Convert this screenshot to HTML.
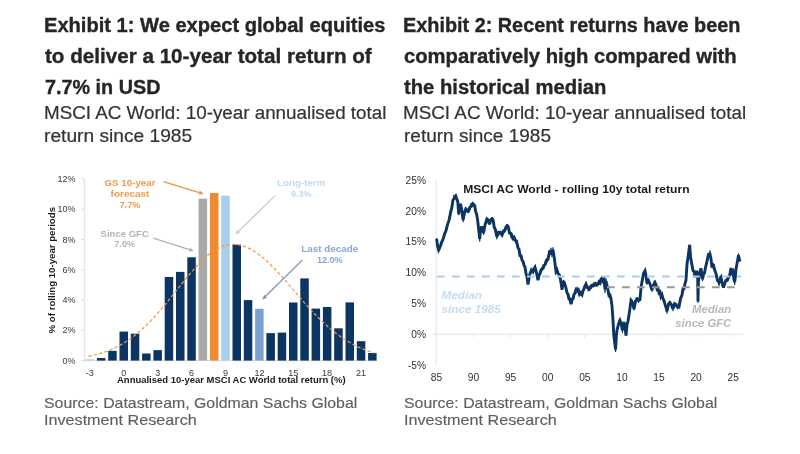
<!DOCTYPE html>
<html><head><meta charset="utf-8"><title>Exhibits</title>
<style>
html,body{margin:0;padding:0;background:#fff;}
body{width:800px;height:454px;position:relative;overflow:hidden;font-family:"Liberation Sans",sans-serif;}
.ln{position:absolute;white-space:nowrap;line-height:normal;margin:0;transform-origin:0 0;}
.h{font-weight:bold;color:#262626;-webkit-text-stroke:0.35px #262626;}
.s{color:#333;-webkit-text-stroke:0.2px #333;}
.src{color:#5e5e5e;-webkit-text-stroke:0.15px #5e5e5e;}
svg{position:absolute;left:0;top:0;}
svg text{font-family:"Liberation Sans",sans-serif;}
.t1{font-size:9px;fill:#383838;}
.t2{font-size:10.2px;fill:#303030;}
.a1{font-size:9.4px;}
.b{font-weight:bold;}
.axt{font-size:9.2px;font-weight:bold;fill:#1a1a1a;}
.ct{font-size:11.2px;font-weight:bold;fill:#1a1a1a;}
.med{font-size:11.4px;font-weight:bold;font-style:italic;}
</style></head><body>
<div class="ln h" id="h1a" style="left:44.0px;top:14.20px;font-size:20px;transform:scaleX(1.0052);">Exhibit 1: We expect global equities</div>
<div class="ln h" id="h1b" style="left:44.8px;top:45.20px;font-size:20px;transform:scaleX(1.0314);">to deliver a 10-year total return of</div>
<div class="ln h" id="h1c" style="left:44.6px;top:75.90px;font-size:20px;transform:scaleX(0.9897);">7.7% in USD</div>
<div class="ln s" id="s1a" style="left:44.1px;top:103.21px;font-size:18px;transform:scaleX(1.0445);">MSCI AC World: 10-year annualised total</div>
<div class="ln s" id="s1b" style="left:44.3px;top:126.41px;font-size:18px;transform:scaleX(1.0655);">return since 1985</div>
<div class="ln h" id="h2a" style="left:403.2px;top:14.20px;font-size:20px;transform:scaleX(0.9918);">Exhibit 2: Recent returns have been</div>
<div class="ln h" id="h2b" style="left:403.8px;top:45.20px;font-size:20px;transform:scaleX(1.0114);">comparatively high compared with</div>
<div class="ln h" id="h2c" style="left:404.0px;top:75.90px;font-size:20px;transform:scaleX(1.0122);">the historical median</div>
<div class="ln s" id="s2a" style="left:403.3px;top:103.21px;font-size:18px;transform:scaleX(1.0469);">MSCI AC World: 10-year annualised total</div>
<div class="ln s" id="s2b" style="left:403.5px;top:126.41px;font-size:18px;transform:scaleX(1.0568);">return since 1985</div>
<div class="ln src" id="r1a" style="left:44.2px;top:393.82px;font-size:15px;transform:scaleX(1.0585);">Source: Datastream, Goldman Sachs Global</div>
<div class="ln src" id="r1b" style="left:43.8px;top:410.82px;font-size:15px;transform:scaleX(1.0774);">Investment Research</div>
<div class="ln src" id="r2a" style="left:404.2px;top:393.82px;font-size:15px;transform:scaleX(1.0585);">Source: Datastream, Goldman Sachs Global</div>
<div class="ln src" id="r2b" style="left:403.8px;top:410.82px;font-size:15px;transform:scaleX(1.0774);">Investment Research</div>
<svg width="800" height="454" viewBox="0 0 800 454">
<g id="c1"><line x1="84.3" y1="179" x2="84.3" y2="360.6" stroke="#dadde4" stroke-width="1"/><line x1="81.3" y1="360.6" x2="377.5" y2="360.6" stroke="#dadde4" stroke-width="1"/><line x1="81.3" y1="360.6" x2="84.3" y2="360.6" stroke="#dadde4" stroke-width="1"/><line x1="81.3" y1="330.3" x2="84.3" y2="330.3" stroke="#dadde4" stroke-width="1"/><line x1="81.3" y1="300.1" x2="84.3" y2="300.1" stroke="#dadde4" stroke-width="1"/><line x1="81.3" y1="269.8" x2="84.3" y2="269.8" stroke="#dadde4" stroke-width="1"/><line x1="81.3" y1="239.5" x2="84.3" y2="239.5" stroke="#dadde4" stroke-width="1"/><line x1="81.3" y1="209.3" x2="84.3" y2="209.3" stroke="#dadde4" stroke-width="1"/><line x1="81.3" y1="179.0" x2="84.3" y2="179.0" stroke="#dadde4" stroke-width="1"/><line x1="84.2" y1="360.6" x2="84.2" y2="363.1" stroke="#e9ebef" stroke-width="1"/><line x1="118.1" y1="360.6" x2="118.1" y2="363.1" stroke="#e9ebef" stroke-width="1"/><line x1="152.0" y1="360.6" x2="152.0" y2="363.1" stroke="#e9ebef" stroke-width="1"/><line x1="185.9" y1="360.6" x2="185.9" y2="363.1" stroke="#e9ebef" stroke-width="1"/><line x1="219.8" y1="360.6" x2="219.8" y2="363.1" stroke="#e9ebef" stroke-width="1"/><line x1="253.7" y1="360.6" x2="253.7" y2="363.1" stroke="#e9ebef" stroke-width="1"/><line x1="287.6" y1="360.6" x2="287.6" y2="363.1" stroke="#e9ebef" stroke-width="1"/><line x1="321.5" y1="360.6" x2="321.5" y2="363.1" stroke="#e9ebef" stroke-width="1"/><line x1="355.4" y1="360.6" x2="355.4" y2="363.1" stroke="#e9ebef" stroke-width="1"/><rect x="85.6" y="359.3" width="8.5" height="1.3" fill="#b9c6d8"/><rect x="96.9" y="358.0" width="8.5" height="2.6" fill="#0d3563"/><rect x="108.2" y="350.9" width="8.5" height="9.7" fill="#0d3563"/><rect x="119.5" y="331.6" width="8.5" height="29.0" fill="#0d3563"/><rect x="130.8" y="333.7" width="8.5" height="26.9" fill="#0d3563"/><rect x="142.1" y="353.5" width="8.5" height="7.1" fill="#0d3563"/><rect x="153.4" y="350.1" width="8.5" height="10.5" fill="#0d3563"/><rect x="164.7" y="277.0" width="8.5" height="83.6" fill="#0d3563"/><rect x="176.0" y="271.9" width="8.5" height="88.7" fill="#0d3563"/><rect x="187.3" y="257.3" width="8.5" height="103.3" fill="#0d3563"/><rect x="198.6" y="198.6" width="8.5" height="162.0" fill="#a9a9a9"/><rect x="209.9" y="193.0" width="8.5" height="167.6" fill="#ef8a2e"/><rect x="221.2" y="195.7" width="8.5" height="164.9" fill="#a9cdec"/><rect x="232.5" y="244.7" width="8.5" height="115.9" fill="#0d3563"/><rect x="243.8" y="300.1" width="8.5" height="60.5" fill="#0d3563"/><rect x="255.1" y="308.8" width="8.5" height="51.8" fill="#7ba0d2"/><rect x="266.4" y="333.1" width="8.5" height="27.5" fill="#0d3563"/><rect x="277.7" y="332.6" width="8.5" height="28.0" fill="#0d3563"/><rect x="289.0" y="302.5" width="8.5" height="58.1" fill="#0d3563"/><rect x="300.3" y="278.4" width="8.5" height="82.2" fill="#0d3563"/><rect x="311.6" y="308.6" width="8.5" height="52.0" fill="#0d3563"/><rect x="322.9" y="307.0" width="8.5" height="53.6" fill="#0d3563"/><rect x="334.2" y="328.3" width="8.5" height="32.3" fill="#0d3563"/><rect x="345.5" y="302.4" width="8.5" height="58.2" fill="#0d3563"/><rect x="356.8" y="341.2" width="8.5" height="19.4" fill="#0d3563"/><rect x="368.1" y="353.0" width="8.5" height="7.6" fill="#0d3563"/><polyline points="88.5,356.3 90.5,355.9 92.5,355.5 94.5,355.0 96.5,354.5 98.5,354.0 100.5,353.4 102.5,352.8 104.5,352.1 106.5,351.4 108.5,350.6 110.5,349.8 112.5,348.9 114.5,348.0 116.5,347.0 118.5,346.0 120.5,344.9 122.5,343.8 124.5,342.6 126.5,341.3 128.5,340.0 130.5,338.6 132.5,337.1 134.5,335.6 136.5,334.0 138.5,332.3 140.5,330.6 142.5,328.8 144.5,326.9 146.5,325.0 148.5,323.0 150.5,321.0 152.5,318.9 154.5,316.8 156.5,314.6 158.5,312.3 160.5,310.0 162.5,307.6 164.5,305.3 166.5,302.9 168.5,300.4 170.5,297.9 172.5,295.4 174.5,292.9 176.5,290.4 178.5,287.9 180.5,285.4 182.5,282.9 184.5,280.5 186.5,278.0 188.5,275.6 190.5,273.2 192.5,270.9 194.5,268.6 196.5,266.4 198.5,264.3 200.5,262.2 202.5,260.2 204.5,258.3 206.5,256.5 208.5,254.8 210.5,253.3 212.5,251.8 214.5,250.4 216.5,249.2 218.5,248.1 220.5,247.1 222.5,246.3 224.5,245.6 226.5,245.1 228.5,244.7 230.5,244.4 232.5,244.3 234.5,244.3 236.5,244.5 238.5,244.8 240.5,245.2 242.5,245.7 244.5,246.4 246.5,247.2 248.5,248.1 250.5,249.1 252.5,250.2 254.5,251.4 256.5,252.8 258.5,254.2 260.5,255.7 262.5,257.3 264.5,259.0 266.5,260.8 268.5,262.7 270.5,264.6 272.5,266.6 274.5,268.7 276.5,270.8 278.5,272.9 280.5,275.1 282.5,277.4 284.5,279.6 286.5,281.9 288.5,284.2 290.5,286.6 292.5,288.9 294.5,291.2 296.5,293.6 298.5,295.9 300.5,298.2 302.5,300.5 304.5,302.8 306.5,305.0 308.5,307.2 310.5,309.4 312.5,311.6 314.5,313.7 316.5,315.7 318.5,317.8 320.5,319.7 322.5,321.7 324.5,323.5 326.5,325.4 328.5,327.1 330.5,328.9 332.5,330.5 334.5,332.1 336.5,333.7 338.5,335.2 340.5,336.6 342.5,338.0 344.5,339.3 346.5,340.6 348.5,341.8 350.5,343.0 352.5,344.1 354.5,345.1 356.5,346.1 358.5,347.1 360.5,348.0 362.5,348.8 364.5,349.6 366.5,350.4 368.5,351.1 370.5,351.8 372.5,352.5 374.5,353.1" fill="none" stroke="#ee9a4c" stroke-width="1.25" stroke-dasharray="3.3 2.2"/><line x1="163.5" y1="181.6" x2="199.2" y2="192.6" stroke="#ef9040" stroke-width="1.3"/><polygon points="203.6,194.0 198.6,194.6 199.8,190.6" fill="#ef9040"/><line x1="153.2" y1="238.2" x2="189.4" y2="249.6" stroke="#b2b2b2" stroke-width="1.3"/><polygon points="193.8,251.0 188.8,251.6 190.0,247.6" fill="#b2b2b2"/><line x1="275.2" y1="195.6" x2="238.6" y2="231.2" stroke="#bfd0e4" stroke-width="1.3"/><polygon points="235.3,234.4 237.1,229.7 240.1,232.7" fill="#bfd0e4"/><line x1="302.2" y1="260.1" x2="265.6" y2="296.2" stroke="#7e90b4" stroke-width="1.3"/><polygon points="262.3,299.4 264.1,294.7 267.1,297.7" fill="#7e90b4"/><text x="130" y="186.1" text-anchor="middle" class="a1 b" fill="#f09a4a" textLength="51" lengthAdjust="spacingAndGlyphs">GS 10-year</text><text x="130" y="196.8" text-anchor="middle" class="a1 b" fill="#f09a4a" textLength="38.8" lengthAdjust="spacingAndGlyphs">forecast</text><text x="130" y="207.6" text-anchor="middle" class="a1 b" fill="#f09a4a" textLength="21" lengthAdjust="spacingAndGlyphs">7.7%</text><text x="124.7" y="236.7" text-anchor="middle" class="a1 b" fill="#b4b4b4" textLength="48.2" lengthAdjust="spacingAndGlyphs">Since GFC</text><text x="124.7" y="247.4" text-anchor="middle" class="a1 b" fill="#b4b4b4" textLength="20.8" lengthAdjust="spacingAndGlyphs">7.0%</text><text x="301.3" y="186" text-anchor="middle" class="a1 b" fill="#bfdaf0" textLength="48.5" lengthAdjust="spacingAndGlyphs">Long-term</text><text x="301.3" y="196.7" text-anchor="middle" class="a1 b" fill="#bfdaf0" textLength="20.8" lengthAdjust="spacingAndGlyphs">9.3%</text><text x="329.8" y="252" text-anchor="middle" class="a1 b" fill="#86a6d3" textLength="57.1" lengthAdjust="spacingAndGlyphs">Last decade</text><text x="329.8" y="262.9" text-anchor="middle" class="a1 b" fill="#86a6d3" textLength="25.8" lengthAdjust="spacingAndGlyphs">12.0%</text><text x="75.6" y="363.7" text-anchor="end" class="t1">0%</text><text x="75.6" y="333.4" text-anchor="end" class="t1">2%</text><text x="75.6" y="303.2" text-anchor="end" class="t1">4%</text><text x="75.6" y="272.9" text-anchor="end" class="t1">6%</text><text x="75.6" y="242.6" text-anchor="end" class="t1">8%</text><text x="75.6" y="212.4" text-anchor="end" class="t1">10%</text><text x="75.6" y="182.1" text-anchor="end" class="t1">12%</text><text x="89.8" y="375.5" text-anchor="middle" class="t1">-3</text><text x="123.8" y="375.5" text-anchor="middle" class="t1">0</text><text x="157.7" y="375.5" text-anchor="middle" class="t1">3</text><text x="191.6" y="375.5" text-anchor="middle" class="t1">6</text><text x="225.5" y="375.5" text-anchor="middle" class="t1">9</text><text x="259.4" y="375.5" text-anchor="middle" class="t1">12</text><text x="293.2" y="375.5" text-anchor="middle" class="t1">15</text><text x="327.1" y="375.5" text-anchor="middle" class="t1">18</text><text x="361.1" y="375.5" text-anchor="middle" class="t1">21</text><text transform="translate(55.2,270.2) rotate(-90)" text-anchor="middle" class="axt" textLength="126.4" lengthAdjust="spacingAndGlyphs">% of rolling 10-year periods</text><text x="117" y="383.4" class="axt" textLength="228.6" lengthAdjust="spacingAndGlyphs">Annualised 10-year MSCI AC World total return (%)</text></g>
<g id="c2"><line x1="436.2" y1="180.3" x2="436.2" y2="365.1" stroke="#e2e3e8" stroke-width="1"/><line x1="433.2" y1="334.3" x2="743" y2="334.3" stroke="#e2e3e8" stroke-width="1"/><line x1="436.2" y1="334.3" x2="436.2" y2="337.3" stroke="#e2e3e8" stroke-width="1"/><text x="436.4" y="381.4" text-anchor="middle" class="t2">85</text><line x1="473.3" y1="334.3" x2="473.3" y2="337.3" stroke="#e2e3e8" stroke-width="1"/><text x="473.5" y="381.4" text-anchor="middle" class="t2">90</text><line x1="510.4" y1="334.3" x2="510.4" y2="337.3" stroke="#e2e3e8" stroke-width="1"/><text x="510.6" y="381.4" text-anchor="middle" class="t2">95</text><line x1="547.5" y1="334.3" x2="547.5" y2="337.3" stroke="#e2e3e8" stroke-width="1"/><text x="547.7" y="381.4" text-anchor="middle" class="t2">00</text><line x1="584.6" y1="334.3" x2="584.6" y2="337.3" stroke="#e2e3e8" stroke-width="1"/><text x="584.8" y="381.4" text-anchor="middle" class="t2">05</text><line x1="621.7" y1="334.3" x2="621.7" y2="337.3" stroke="#e2e3e8" stroke-width="1"/><text x="621.9" y="381.4" text-anchor="middle" class="t2">10</text><line x1="658.8" y1="334.3" x2="658.8" y2="337.3" stroke="#e2e3e8" stroke-width="1"/><text x="659.0" y="381.4" text-anchor="middle" class="t2">15</text><line x1="695.9" y1="334.3" x2="695.9" y2="337.3" stroke="#e2e3e8" stroke-width="1"/><text x="696.1" y="381.4" text-anchor="middle" class="t2">20</text><line x1="733.0" y1="334.3" x2="733.0" y2="337.3" stroke="#e2e3e8" stroke-width="1"/><text x="733.2" y="381.4" text-anchor="middle" class="t2">25</text><text x="426" y="183.7" text-anchor="end" class="t2">25%</text><text x="426" y="214.5" text-anchor="end" class="t2">20%</text><text x="426" y="245.3" text-anchor="end" class="t2">15%</text><text x="426" y="276.1" text-anchor="end" class="t2">10%</text><text x="426" y="306.9" text-anchor="end" class="t2">5%</text><text x="426" y="337.7" text-anchor="end" class="t2">0%</text><text x="426" y="368.5" text-anchor="end" class="t2">-5%</text><polyline points="436.60,238.9 437.60,246.3 438.60,249.9 440.50,246.1 441.55,242.1 442.60,240.6 444.30,234.9 446.00,230.6 447.60,224.4 449.20,219.7 450.50,212.9 451.90,207.2 452.90,200.3 453.90,198.7 455.80,196.1 456.80,198.9 457.80,201.9 458.70,214.1 459.60,206.0 460.50,203.7 461.80,210.3 463.10,220.1 464.50,212.5 465.80,209.0 467.10,210.3 468.40,211.2 470.00,207.0 471.70,205.9 472.70,203.6 473.70,204.3 474.70,205.9 475.70,211.6 476.70,214.6 477.70,220.5 478.70,229.9 479.70,238.9 480.60,229.8 481.60,226.4 482.60,229.0 483.60,233.0 485.20,224.2 486.90,218.9 488.30,220.1 489.60,224.2 490.90,219.6 492.20,218.8 493.20,220.6 494.20,227.2 495.50,229.8 496.80,236.8 498.20,232.3 499.50,232.2 500.80,232.8 502.10,234.9 503.50,231.2 504.80,230.5 506.10,226.9 507.40,225.9 508.40,227.2 509.40,233.0 511.00,233.5 512.70,238.1 513.85,237.1 515.00,240.0 516.50,241.0 518.00,247.8 519.00,249.1 520.00,255.6 521.00,255.7 522.00,260.1 523.00,261.4 524.00,265.2 525.00,266.9 526.00,273.7 527.00,276.6 528.00,284.5 529.50,275.3 531.00,271.1 532.00,270.5 533.00,271.8 534.00,268.7 535.00,267.2 536.50,272.9 538.00,280.3 539.00,275.8 540.00,273.4 541.50,269.3 543.00,268.5 544.00,265.4 545.00,264.8 546.50,260.1 548.00,259.5 549.50,251.6 551.00,251.5 552.00,254.5 553.00,249.7 554.50,259.4 556.00,271.5 557.00,269.9 558.00,273.3 559.00,274.7 560.00,277.4 561.00,282.6 562.00,289.8 563.50,281.0 565.00,284.4 566.00,288.0 567.00,292.7 568.00,294.4 569.00,299.0 570.00,298.9 571.00,304.2 572.00,299.6 573.00,299.0 574.00,294.4 575.00,293.1 576.00,289.5 577.00,290.3 578.25,289.5 579.50,294.4 580.75,292.8 582.00,294.7 583.00,290.8 584.00,289.1 585.00,285.9 586.00,284.1 587.50,287.6 589.00,289.3 590.25,286.9 591.50,286.1 592.75,285.5 594.00,285.3 595.50,284.3 597.00,284.6 598.50,283.0 600.00,283.5 601.00,279.0 602.00,278.3 603.00,280.6 604.00,279.6 605.00,289.4 606.00,281.2 607.50,287.6 609.00,295.7 610.00,295.2 611.00,298.8 612.00,305.9 613.00,320.2 613.80,335.4 615.60,349.5 616.30,336.6 617.00,330.3 618.50,324.0 620.00,320.6 621.20,324.1 622.40,330.2 623.20,324.1 624.00,322.0 625.00,327.1 626.00,335.7 627.00,324.5 628.00,321.2 629.50,311.6 631.00,300.6 632.50,302.7 634.00,309.3 635.50,301.1 637.00,299.3 638.50,300.4 640.00,299.4 641.00,287.6 642.00,281.7 643.50,273.6 645.00,270.9 646.00,275.6 647.00,283.3 648.50,280.6 650.00,283.9 651.00,287.4 652.00,290.0 653.50,285.0 655.00,282.5 656.00,284.6 657.00,289.2 658.00,288.4 659.00,292.8 660.00,291.9 661.00,296.7 662.00,294.9 663.00,298.6 664.00,300.6 665.00,304.4 666.00,307.2 667.00,311.3 668.50,303.9 670.00,303.5 671.50,304.6 673.00,308.8 674.50,303.9 676.00,305.4 677.50,306.9 679.00,307.1 680.50,298.5 682.00,295.3 683.00,288.7 684.00,288.8 685.00,283.7 686.00,280.3 687.00,264.4 688.00,257.4 689.70,244.8 690.50,256.7 691.50,262.3 693.00,270.6 694.00,271.3 695.00,276.3 696.00,272.8 697.00,270.8 697.70,278.5 698.00,301.4 698.40,281.8 699.50,274.4 701.00,268.3 702.50,279.1 703.50,274.4 704.50,272.9 705.50,267.8 707.00,261.0 708.50,254.3 710.00,254.1 711.00,259.1 712.00,267.6 713.30,264.3 714.50,269.5 716.00,273.6 717.50,280.4 719.00,282.6 720.00,279.5 721.00,277.6 722.30,284.0 723.50,287.6 724.60,283.7 725.70,280.8 727.00,280.5 728.70,277.4 730.00,273.8 731.00,268.0 732.00,272.5 733.00,271.3 734.00,279.6 734.70,282.1 735.30,276.9 736.00,269.1 737.30,262.0 738.50,255.3 739.30,259.3 740,261.5" fill="none" stroke="#0d3563" stroke-width="2.9" stroke-linejoin="miter" stroke-miterlimit="3" stroke-linecap="butt"/><polyline points="436.60,238.1 437.60,248.4 438.60,249.4 439.55,250.5 440.50,243.7 441.55,245.1 442.60,238.2 443.45,239.5 444.30,232.9 445.15,234.8 446.00,228.2 446.80,229.2 447.60,222.8 448.40,223.5 449.20,216.6 449.85,218.0 450.50,210.9 451.20,212.4 451.90,204.4 452.90,202.9 453.90,195.1 454.85,198.8 455.80,194.3 456.80,200.8 457.80,201.0 458.70,214.6 459.60,205.0 460.50,205.6 461.15,205.2 461.80,214.5 462.45,213.4 463.10,221.7 463.80,214.9 464.50,216.6 465.15,208.8 465.80,210.0 466.45,208.0 467.10,212.4 467.75,209.3 468.40,212.7 469.20,207.8 470.00,209.8 470.85,203.6 471.70,207.1 472.70,202.3 473.70,205.6 474.70,204.8 475.70,212.5 476.70,213.0 477.70,223.1 478.70,228.4 479.70,241.1 480.60,229.1 481.60,227.7 482.60,226.8 483.60,234.5 484.40,226.9 485.20,226.9 486.05,219.7 486.90,220.2 487.60,218.3 488.30,223.3 488.95,219.9 489.60,224.4 490.25,219.4 490.90,221.9 491.55,217.5 492.20,219.6 493.20,219.3 494.20,227.7 494.85,226.9 495.50,233.7 496.15,231.2 496.80,239.0 497.50,233.7 498.20,235.7 498.85,231.6 499.50,234.4 500.15,231.0 500.80,235.0 501.45,231.6 502.10,236.2 502.80,230.1 503.50,233.2 504.15,229.0 504.80,232.3 505.45,226.2 506.10,229.3 506.75,224.4 507.40,226.2 508.40,226.2 509.40,233.9 510.20,232.1 511.00,237.6 511.85,234.1 512.70,240.0 513.47,236.6 514.23,241.0 515.00,237.6 515.75,243.0 516.50,240.0 517.25,246.3 518.00,244.9 519.00,253.1 520.00,252.3 521.00,258.0 522.00,256.9 523.00,263.2 524.00,262.5 525.00,269.6 526.00,270.6 527.00,279.6 528.00,282.2 528.75,281.8 529.50,273.6 530.25,274.7 531.00,268.0 532.00,272.1 533.00,269.2 534.00,270.4 535.00,265.3 535.75,271.4 536.50,270.7 537.25,278.1 538.00,277.4 539.00,278.0 540.00,270.4 540.75,273.0 541.50,267.5 542.25,270.4 543.00,265.0 544.00,268.0 545.00,262.1 545.75,264.5 546.50,258.7 547.25,262.2 548.00,256.2 548.75,258.0 549.50,250.7 550.25,253.7 551.00,248.1 552.00,256.8 553.00,247.6 553.75,256.0 554.50,258.6 555.25,267.4 556.00,268.3 557.00,273.1 558.00,271.5 559.00,277.5 560.00,274.5 561.00,285.3 562.00,287.3 562.75,287.2 563.50,280.3 564.25,285.0 565.00,282.4 566.00,290.0 567.00,290.3 568.00,297.6 569.00,295.3 570.00,302.6 571.00,301.3 572.00,303.2 573.00,296.2 574.00,297.3 575.00,291.6 576.00,292.9 577.00,287.0 577.83,292.4 578.67,290.0 579.50,295.0 580.33,292.0 581.17,295.4 582.00,292.5 583.00,292.9 584.00,286.6 585.00,287.4 586.00,282.2 586.75,287.7 587.50,285.9 588.25,290.6 589.00,286.6 589.83,290.2 590.67,284.7 591.50,288.5 592.33,283.8 593.17,287.1 594.00,282.3 594.75,286.3 595.50,282.2 596.25,286.5 597.00,282.6 597.75,286.0 598.50,280.4 599.25,284.7 600.00,279.7 601.00,282.4 602.00,276.5 603.00,283.1 604.00,277.0 605.00,292.5 606.00,278.6 606.75,287.5 607.50,286.9 608.25,294.1 609.00,291.7 610.00,298.3 611.00,296.3 612.00,307.4 613.00,318.5 613.80,337.8 614.70,341.0 615.60,351.5 616.30,335.9 617.00,332.2 617.75,324.8 618.50,326.3 619.25,319.5 620.00,320.4 621.20,322.6 622.40,332.4 623.20,323.0 624.00,324.1 625.00,325.8 626.00,335.4 627.00,323.7 628.00,321.7 628.75,314.5 629.50,313.7 630.25,303.7 631.00,301.6 631.75,299.2 632.50,305.7 633.25,303.5 634.00,309.9 634.75,303.0 635.50,304.3 636.25,297.6 637.00,300.2 637.75,297.3 638.50,302.5 639.25,298.5 640.00,300.7 641.00,286.6 642.00,281.8 642.75,275.4 643.50,276.4 644.25,270.8 645.00,271.2 646.00,274.7 647.00,284.3 647.75,279.2 648.50,282.7 649.25,280.0 650.00,285.0 651.00,286.0 652.00,291.5 652.75,284.9 653.50,286.6 654.25,280.8 655.00,284.6 656.00,283.6 657.00,290.0 658.00,287.5 659.00,294.7 660.00,291.5 661.00,296.7 662.00,294.9 663.00,300.6 664.00,299.4 665.00,306.1 666.00,306.0 667.00,313.1 667.75,305.4 668.50,306.5 669.25,301.0 670.00,304.0 670.75,301.5 671.50,308.3 672.25,305.3 673.00,310.6 673.75,304.5 674.50,306.4 675.25,303.1 676.00,306.0 676.75,303.5 677.50,308.8 678.25,305.0 679.00,307.8 679.75,301.2 680.50,302.5 681.25,295.6 682.00,296.4 683.00,287.5 684.00,289.5 685.00,281.4 686.00,281.3 687.00,262.4 688.00,257.7 688.85,249.4 689.70,248.4 690.50,253.3 691.50,265.1 692.25,264.2 693.00,270.9 694.00,270.8 695.00,277.4 696.00,271.5 697.00,273.0 697.70,278.3 698.00,302.6 698.40,280.3 699.50,274.7 700.25,269.5 701.00,271.6 701.75,272.1 702.50,280.6 703.50,272.5 704.50,274.4 705.50,265.8 706.25,267.1 707.00,258.4 707.75,260.6 708.50,253.7 709.25,255.9 710.00,250.7 711.00,262.0 712.00,263.6 712.65,267.7 713.30,263.3 714.50,269.4 715.25,268.9 716.00,276.5 716.75,275.5 717.50,281.8 718.25,279.7 719.00,285.3 720.00,276.3 721.00,279.7 721.65,278.3 722.30,284.8 723.50,285.9 724.60,284.9 725.70,279.4 726.35,281.6 727.00,277.4 727.85,281.1 728.70,276.0 729.35,277.1 730.00,270.4 731.00,271.7 732.00,269.0 733.00,273.5 734.00,276.4 734.70,284.5 735.30,274.2 736.00,271.5 736.65,264.3 737.30,263.7 738.50,253.9 739.30,261.5" fill="none" stroke="#0d3563" stroke-width="1.2" stroke-linejoin="round"/><line x1="437" y1="276.5" x2="741" y2="276.5" stroke="#a9cdec" stroke-width="2" stroke-dasharray="7.7 7.3"/><line x1="607" y1="287.3" x2="735" y2="287.3" stroke="#9c9792" stroke-width="2" stroke-dasharray="7.7 7.3"/><text x="463.2" y="192.6" class="ct" textLength="226.4" lengthAdjust="spacingAndGlyphs">MSCI AC World - rolling 10y total return</text><text x="441.6" y="299.1" class="med" fill="#c3dcf0" textLength="40.2" lengthAdjust="spacingAndGlyphs">Median</text><text x="441.6" y="312.9" class="med" fill="#c3dcf0" textLength="59.2" lengthAdjust="spacingAndGlyphs">since 1985</text><text x="731.3" y="313" text-anchor="end" class="med" fill="#b8b8b8" textLength="39.2" lengthAdjust="spacingAndGlyphs">Median</text><text x="731.3" y="326.8" text-anchor="end" class="med" fill="#b8b8b8" textLength="56" lengthAdjust="spacingAndGlyphs">since GFC</text></g>
</svg>
</body></html>
